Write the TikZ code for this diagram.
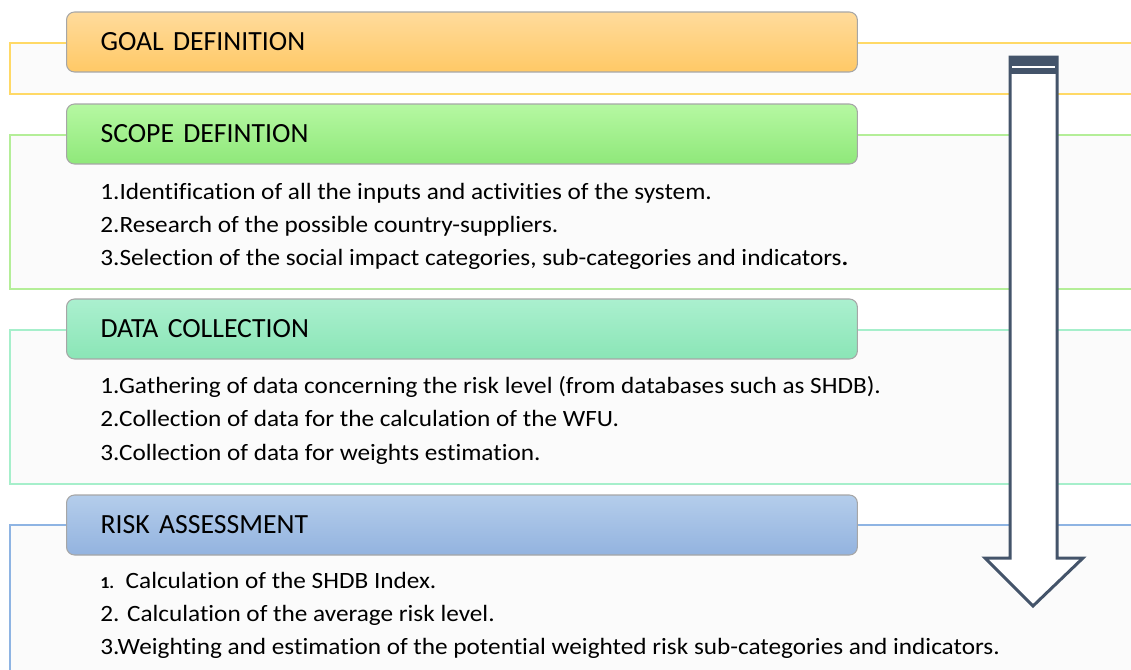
\documentclass[tikz,border=0pt]{standalone}
\usepackage{fontspec}
\setmainfont[Ligatures=NoCommon]{Carlito}
\newfontfamily\bodyfont[Ligatures=NoCommon, FakeStretch=1.08]{Carlito}
\usetikzlibrary{calc}
\definecolor{goalline}{HTML}{FFD966}
\definecolor{goaltop}{HTML}{FFDB9C}
\definecolor{goalbot}{HTML}{FFC966}
\definecolor{scopeline}{HTML}{B4EE98}
\definecolor{scopetop}{HTML}{B6F8A2}
\definecolor{scopebot}{HTML}{8FE87A}
\definecolor{dataline}{HTML}{A6EFCB}
\definecolor{datatop}{HTML}{ABF0CF}
\definecolor{databot}{HTML}{8AE5B6}
\definecolor{riskline}{HTML}{8EB4E3}
\definecolor{risktop}{HTML}{B4CDEB}
\definecolor{riskbot}{HTML}{93B3DF}
\definecolor{panelfill}{HTML}{FBFBFB}
\definecolor{slate}{HTML}{44546A}
\tikzset{
  panel/.style={fill=panelfill, line width=0.8pt},
  header/.style={draw=black!35, line width=0.6pt, rounded corners=0.16cm,
    minimum width=15.82cm, minimum height=1.2cm, text width=14.46cm,
    inner xsep=0.68cm, align=left, anchor=west,
    font=\fontsize{15.8}{18}\selectfont},
  item/.style={anchor=base west, inner sep=0pt,
    font=\bodyfont\fontsize{13.3}{15}\selectfont}
}

\begin{document}
\begin{tikzpicture}[x=0.02cm, y=-0.02cm]
				\useasboundingbox[fill=white] (0,0) rectangle (1131,669);
				
				% outer panels
				\draw[panel, draw=goalline] (10,43) rectangle (1150,94);
				\draw[panel, draw=scopeline] (10,135) rectangle (1150,289);
				\draw[panel, draw=dataline] (10,330) rectangle (1150,484);
				\draw[panel, draw=riskline] (10,525) rectangle (1150,700);
				
				% headers
				\node[header, top color=goaltop, bottom color=goalbot] (goal) at (66,42) {GOAL DEFINITION};
				\node[header, top color=scopetop, bottom color=scopebot] (scope) at (66,134) {SCOPE DEFINTION};
				\node[header, top color=datatop, bottom color=databot] (data) at (66,329) {DATA COLLECTION};
				\node[header, top color=risktop, bottom color=riskbot] (risk) at (66,525) {RISK ASSESSMENT};
				
				% scope items
				\node[item] (scope1) at (100,199) {1.Identification of all the inputs and activities of the system.};
				\node[item] (scope2) at (100,232) {2.Research of the possible country-suppliers.};
				\node[item] (scope3) at (100,265) {3.Selection of the social impact categories, sub-categories and indicators\textbf{.}};
				
				% data items
				\node[item] (data1) at (100,393) {1.Gathering of data concerning the risk level (from databases such as SHDB).};
				\node[item] (data2) at (100,426) {2.Collection of data for the calculation of the WFU.};
				\node[item] (data3) at (100,460) {3.Collection of data for weights estimation.};
				
				% risk items
				\node[item] (risk1) at (100,588) {{\fontsize{9.5}{11}\selectfont\textbf{1.}}\ \ Calculation of the SHDB Index.};
				\node[item] (risk2) at (100,621) {2. Calculation of the average risk level.};
				\node[item] (risk3) at (100,654) {3.Weighting and estimation of the potential weighted risk sub-categories and indicators.};
				
				% block arrow
				\draw[slate, line width=1.7pt, fill=white, line join=miter]
				  (1010,57) -- (1057,57) -- (1057,558) -- (1083,558) -- (1033,606)
				  -- (985,558) -- (1010,558) -- cycle;
				\fill[slate] (1010,57) rectangle (1057,74);
				\draw[white, line width=1.6pt] (1012,67) -- (1055,67);
			\end{tikzpicture}
\end{document}
